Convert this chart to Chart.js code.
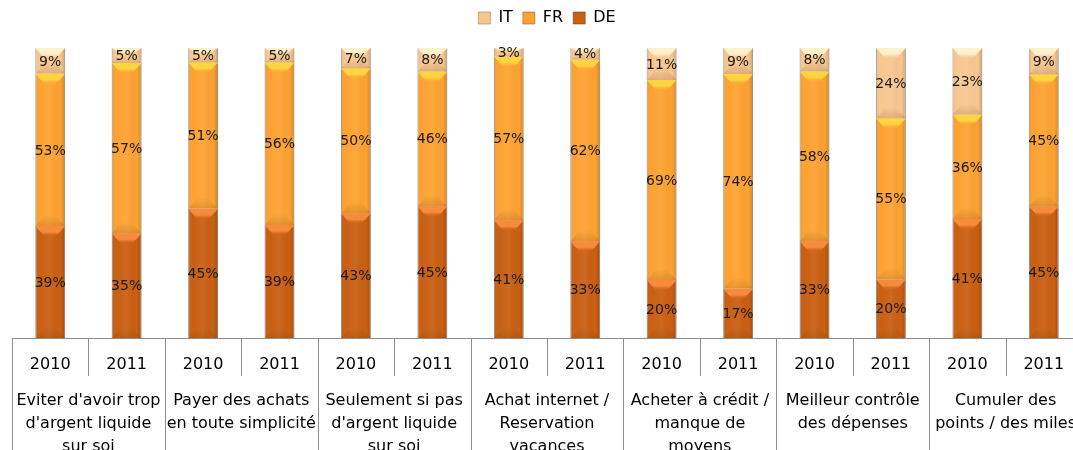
<!DOCTYPE html>
<html>
<head>
<meta charset="utf-8">
<script src="https://cdn.jsdelivr.net/npm/chart.js@4/dist/chart.umd.min.js"></script>
<style>
html, body { margin: 0; padding: 0; background: #fff; overflow: hidden; }
#wrap { width: 1090px; height: 450px; }
</style>
</head>
<body>
<div id="wrap"><canvas id="reportChart"></canvas></div>
<script>
// categories
var groups = [
    "Eviter d'avoir trop\nd'argent liquide\nsur soi",
    "Payer des achats\nen toute simplicité",
    "Seulement si pas\nd'argent liquide\nsur soi",
    "Achat internet /\nReservation\nvacances",
    "Acheter à crédit /\nmanque de\nmoyens",
    "Meilleur contrôle\ndes dépenses",
    "Cumuler des\npoints / des miles"
]
var years = ['2010', '2011', '2010', '2011', '2010', '2011', '2010', '2011',
             '2010', '2011', '2010', '2011', '2010', '2011']

// values (%) as printed on the bars
var deVal = [39, 35, 45, 39, 43, 45, 41, 33, 20, 17, 33, 20, 41, 45]
var frVal = [53, 57, 51, 56, 50, 46, 57, 62, 69, 74, 58, 55, 36, 45]
var itVal = [9, 5, 5, 5, 7, 8, 3, 4, 11, 9, 8, 24, 23, 9]

var FONT = "'DejaVu Sans', sans-serif"

// bars are stacked to 100%
var totals = deVal.map(function(v, i) { return v + frVal[i] + itVal[i] })
function share(arr) {
    return arr.map(function(v, i) { return v / totals[i] * 100 })
}

// top bevel: light colour -> transparent base colour
var bevelTop = [['#f68b3c', 'rgba(201,95,18,0)'],
                ['#ffd43e', 'rgba(253,162,50,0)'],
                ['#fff1cc', 'rgba(248,199,144,0)']]

var bevelPlugin = {
    id: 'bevel',
    afterDatasetsDraw: function(chart) {
        var ctx = chart.ctx
        ctx.save()
        chart.data.datasets.forEach(function(ds, di) {
            var meta = chart.getDatasetMeta(di)
            meta.data.forEach(function(bar, i) {
                var p = bar.getProps(['x', 'y', 'base', 'width'], true)
                var left = p.x - p.width / 2, right = p.x + p.width / 2
                var top = Math.min(p.y, p.base), h = Math.abs(p.base - p.y)
                // cylinder shading
                var g = ctx.createLinearGradient(left, 0, right, 0)
                g.addColorStop(0, 'rgba(0,0,0,0.10)')
                g.addColorStop(0.15, 'rgba(255,255,255,0)')
                g.addColorStop(0.5, 'rgba(255,255,255,0.06)')
                g.addColorStop(0.85, 'rgba(0,0,0,0)')
                g.addColorStop(1, 'rgba(0,0,0,0.18)')
                ctx.fillStyle = g
                ctx.fillRect(left, top, p.width, h)
                // top bevel
                var bh = Math.min(11, h * 0.45)
                var inset = p.width * 0.33
                var gv = ctx.createLinearGradient(0, top, 0, top + bh)
                gv.addColorStop(0, bevelTop[di][0])
                gv.addColorStop(0.55, bevelTop[di][0])
                gv.addColorStop(1, bevelTop[di][1])
                ctx.fillStyle = gv
                ctx.beginPath()
                ctx.moveTo(left, top)
                ctx.lineTo(right, top)
                ctx.lineTo(right - inset, top + bh)
                ctx.lineTo(left + inset, top + bh)
                ctx.closePath()
                ctx.fill()
                // bottom bevel
                var gb = ctx.createLinearGradient(0, top + h - bh, 0, top + h)
                gb.addColorStop(0, 'rgba(110,60,10,0)')
                gb.addColorStop(1, 'rgba(110,60,10,0.18)')
                ctx.fillStyle = gb
                ctx.beginPath()
                ctx.moveTo(left, top + h)
                ctx.lineTo(right, top + h)
                ctx.lineTo(right - inset, top + h - bh)
                ctx.lineTo(left + inset, top + h - bh)
                ctx.closePath()
                ctx.fill()
                // value label
                ctx.fillStyle = '#1a1a1a'
                ctx.font = '14px ' + FONT
                ctx.textAlign = 'center'
                ctx.textBaseline = 'middle'
                ctx.fillText(ds.raw[i] + '%', p.x, top + h / 2 + 1)
            })
        })
        ctx.restore()
    }
}

var axisTablePlugin = {
    id: 'axisTable',
    beforeInit: function(chart) {
        var fit = chart.legend.fit
        chart.legend.fit = function() {
            fit.call(this)
            this.height += 12
        }
    },
    afterDraw: function(chart) {
        var ctx = chart.ctx
        var xs = chart.scales.x
        var step = xs.getPixelForValue(1) - xs.getPixelForValue(0)
        ctx.save()
        ctx.strokeStyle = '#8c8c8c'
        ctx.lineWidth = 1
        for (var i = 0; i <= years.length; i++) {
            var x = Math.round(xs.getPixelForValue(Math.min(i, years.length - 1)) + (i < years.length ? -step / 2 : step / 2)) + 0.5
            var bottom = (i % 2 == 0) ? chart.height : xs.top + 38
            ctx.beginPath()
            ctx.moveTo(x, xs.top)
            ctx.lineTo(x, bottom)
            ctx.stroke()
        }
        ctx.fillStyle = '#000'
        ctx.font = '16px ' + FONT
        ctx.textAlign = 'center'
        ctx.textBaseline = 'middle'
        groups.forEach(function(label, g) {
            var cx = (xs.getPixelForValue(2 * g) + xs.getPixelForValue(2 * g + 1)) / 2
            label.split('\n').forEach(function(line, k) {
                ctx.fillText(line, cx, xs.top + 63 + k * 23)
            })
        })
        ctx.restore()
    }
}

var canvasElement = document.getElementById('reportChart')
var configure = {
    type: 'bar',
    data: {
        labels: years,
        datasets: [{
            label: 'DE',
            backgroundColor: '#c95f12',
            borderColor: 'rgba(110,60,20,0.55)',
            borderWidth: 1,
            data: share(deVal),
            raw: deVal
        }, {
            label: 'FR',
            backgroundColor: '#fda232',
            borderColor: 'rgba(140,95,40,0.55)',
            borderWidth: 1,
            data: share(frVal),
            raw: frVal
        }, {
            label: 'IT',
            backgroundColor: '#f8c790',
            borderColor: 'rgba(150,120,90,0.55)',
            borderWidth: 1,
            data: share(itVal),
            raw: itVal
        }]
    },
    options: {
        responsive: true,
        maintainAspectRatio: false,
        animation: false,
        categoryPercentage: 1,
        barPercentage: 0.39,
        layout: { padding: { left: 12, right: 8, top: 0, bottom: 0 } },
        plugins: {
            legend: {
                reverse: true,
                labels: {
                    font: { family: FONT, size: 16 },
                    color: '#000',
                    boxWidth: 12,
                    boxHeight: 12,
                    padding: 10
                }
            },
            tooltip: { enabled: false }
        },
        scales: {
            x: {
                stacked: true,
                grid: { display: false },
                border: { display: true, color: '#8c8c8c' },
                ticks: {
                    font: { family: FONT, size: 16 },
                    color: '#000',
                    padding: 9,
                    maxRotation: 0,
                    autoSkip: false
                },
                afterFit: function(scale) { scale.height = 112 }
            },
            y: {
                stacked: true,
                display: false,
                min: 0,
                max: 100
            }
        }
    },
    plugins: [axisTablePlugin, bevelPlugin]
}

var reportChart = new Chart(canvasElement, configure)
</script>
</body>
</html>
